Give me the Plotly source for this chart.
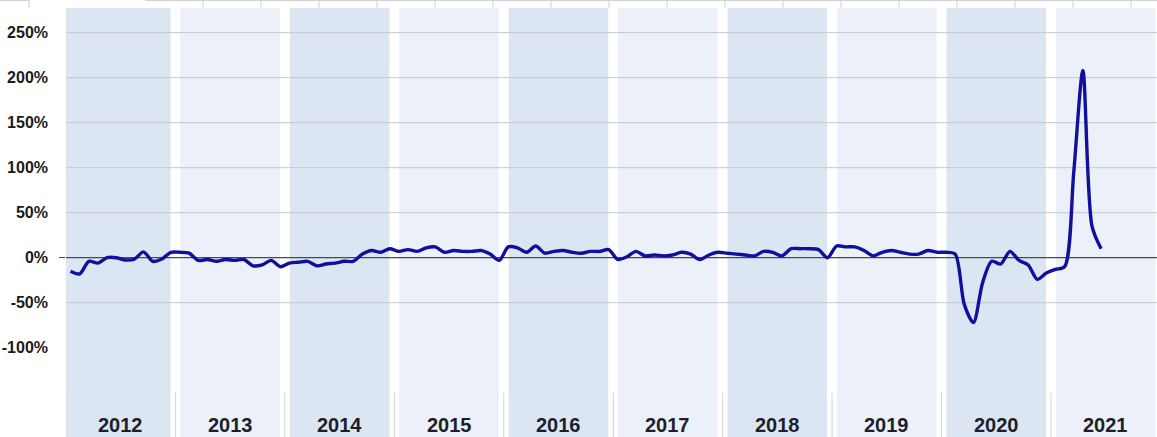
import plotly.graph_objects as go

# ---------------- data ----------------
years = list(range(2012, 2022))
year_labels = [str(y) for y in years]

v2012 = [-15, -18, -4, -6, 0, 0, -2.5, -1.5, 6.5, -4, -1.5, 6]
v2013 = [6, 5, -3, -2, -4, -2, -3, -2, -9, -8, -3, -10]
v2014 = [-6, -5, -4, -9, -7, -6, -4, -4, 4, 8, 6, 10]
v2015 = [7, 9, 7, 11, 12, 6, 8, 7, 7, 8, 4, -3]
v2016 = [12, 11, 6, 13, 5, 7, 8, 6, 5, 7, 7, 9]
v2017 = [-2, 1, 7, 2, 3, 2, 3, 6, 4, -2, 3, 6]
v2018 = [5, 4, 3, 2, 7, 6, 2, 10, 10, 10, 9, 0]
v2019 = [13, 12, 12, 8, 2, 6, 8, 6, 4, 4, 8, 6]
v2020 = [6, 4, -52, -72, -28, -4, -7, 7, -3, -8, -24, -17]
v2021 = [-13, -10, 95, 208, 35, 10]

values = v2012 + v2013 + v2014 + v2015 + v2016 + v2017 + v2018 + v2019 + v2020 + v2021
months = [f"{2012 + i // 12}-{i % 12 + 1:02d}" for i in range(len(values))]
# position of each month in fractional years (middle of month)
xpos = [int(m[:4]) + (int(m[5:]) - 0.5) / 12 for m in months]

grid_values = [-50, 50, 100, 150, 200, 250]
tick_values = [-100, -50, 0, 50, 100, 150, 200, 250]
tick_text = [f"{v}%" for v in tick_values]

# ---------------- style ----------------
Y_RANGE = [-199.2, 277.4]
X_RANGE = [2012, 2021.969]
BAND_DARK = "#DCE6F2"
BAND_LIGHT = "#EBF0F9"
LINE_COLOR = "#10109C"
FONT = "Liberation Sans"

W, H = 1157, 437
L, R, T, B = 66, 0, 8, 0
PW, PH = W - L - R, H - T - B


def xp(px):
    return (px - L) / PW


def yp(py):
    return (H - B - py) / PH


shapes = []
# year bands
for i, y in enumerate(years):
    shapes.append(dict(type="rect", xref="x", yref="paper",
                       x0=(y + 0.045) if i > 0 else y, x1=y + 0.955, y0=0, y1=1,
                       fillcolor=BAND_DARK if i % 2 == 0 else BAND_LIGHT,
                       line_width=0, layer="below"))
# gridlines
for g in grid_values:
    shapes.append(dict(type="line", xref="x", yref="y", x0=2012, x1=2023, y0=g, y1=g,
                       line=dict(color="#C4C8D0", width=1), layer="below"))
# zero line
shapes.append(dict(type="line", xref="x", yref="y", x0=2012, x1=2023, y0=0, y1=0,
                   line=dict(color="#4A4A4A", width=1.3), layer="below"))
# category separators in label area
for y in years:
    shapes.append(dict(type="line", xref="x", yref="y", x0=y, x1=y, y0=-150, y1=-205,
                       line=dict(color="#D4D4D4", width=1), layer="below"))

# spreadsheet cell borders at the very top
top_col = "#D0D0D0"
shapes.append(dict(type="line", xref="paper", yref="paper", x0=xp(0), x1=xp(29),
                   y0=yp(0.5), y1=yp(0.5), line=dict(color=top_col, width=1)))
shapes.append(dict(type="line", xref="paper", yref="paper", x0=xp(29), x1=xp(29),
                   y0=yp(0), y1=yp(8), line=dict(color=top_col, width=1)))
shapes.append(dict(type="line", xref="paper", yref="paper", x0=xp(145), x1=xp(1157),
                   y0=yp(0.5), y1=yp(0.5), line=dict(color=top_col, width=1)))
cx = 203
while cx < 1157:
    shapes.append(dict(type="line", xref="paper", yref="paper", x0=xp(cx), x1=xp(cx),
                       y0=yp(0), y1=yp(8), line=dict(color=top_col, width=1)))
    cx += 58

annotations = []
for y, lab in zip(years, year_labels):
    annotations.append(dict(x=y + 0.5, y=-186, xref="x", yref="y", text=lab,
                            showarrow=False, font=dict(family=FONT, size=20, color="#1C1F2A"),
                            xanchor="center", yanchor="middle"))

fig = go.Figure()
fig.add_trace(go.Scatter(x=xpos, y=values, mode="lines", customdata=months,
                         line=dict(color=LINE_COLOR, width=3.4, shape="spline", smoothing=0.8),
                         hovertemplate="%{customdata}: %{y}%<extra></extra>"))
# invisible helper axis for the small tick at 0
fig.add_trace(go.Scatter(x=[xpos[0]], y=[0], yaxis="y2", mode="markers",
                         marker=dict(opacity=0), hoverinfo="skip", showlegend=False))

fig.update_layout(
    width=W, height=H,
    margin=dict(l=L, r=R, t=T, b=B, pad=0),
    paper_bgcolor="white", plot_bgcolor="rgba(0,0,0,0)",
    showlegend=False,
    xaxis=dict(range=X_RANGE, showgrid=False, zeroline=False, showticklabels=False,
               ticks="", showline=False),
    yaxis=dict(range=Y_RANGE, tickvals=tick_values, ticktext=tick_text, showgrid=False,
               zeroline=False, ticks="", showline=False, ticklabelstandoff=17,
               tickfont=dict(family=FONT, size=16, color="#1A1A1A", weight="bold")),
    yaxis2=dict(range=Y_RANGE, overlaying="y", side="left", tickvals=[0], ticks="outside",
                ticklen=6, tickcolor="#4A4A4A", tickwidth=1.3, showticklabels=False,
                showgrid=False, zeroline=False, showline=False),
    shapes=shapes,
    annotations=annotations,
    font=dict(family=FONT, weight="bold"),
)

fig.write_html("out.html", config={"displayModeBar": False},
               post_script="document.body.style.margin='0';document.body.style.overflow='hidden';")
